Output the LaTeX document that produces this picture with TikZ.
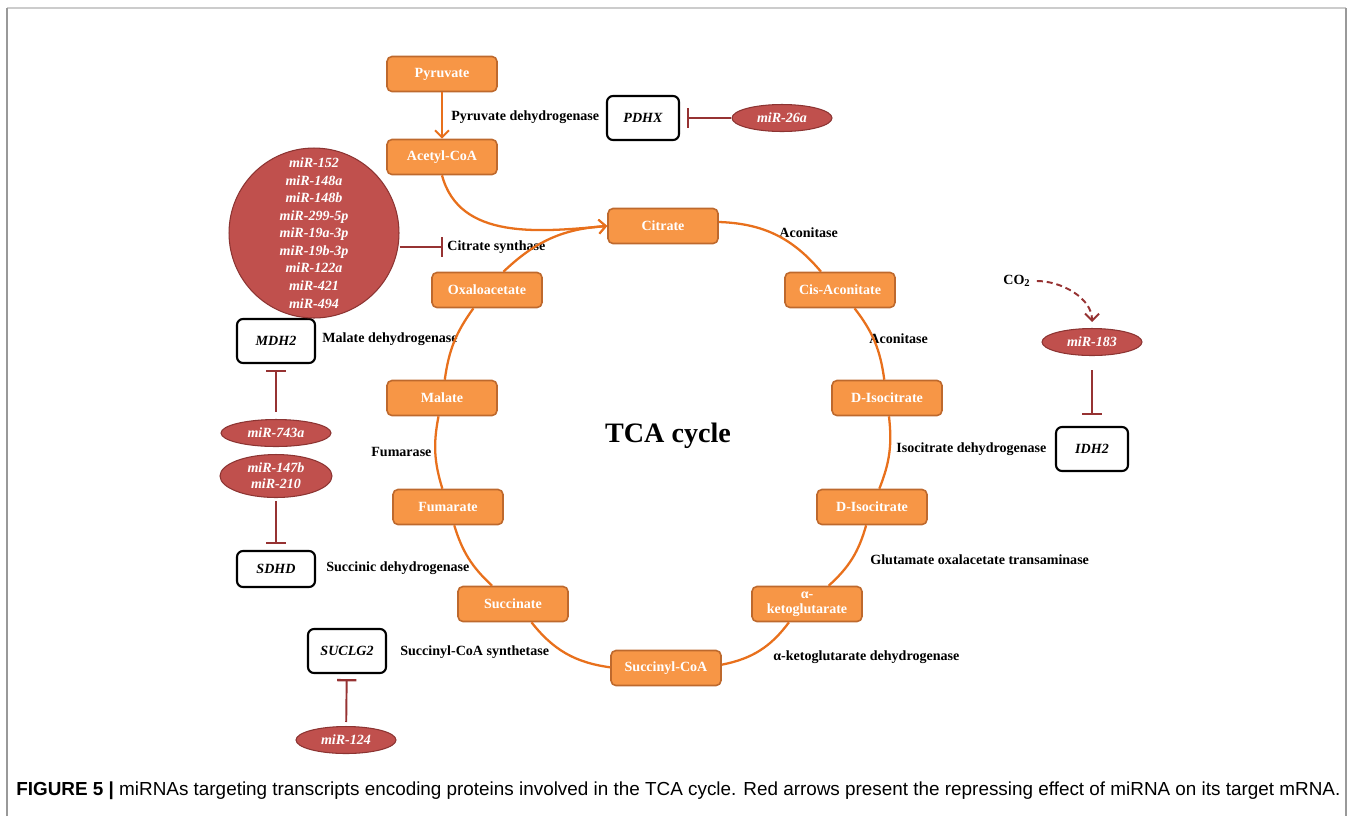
\documentclass[tikz,border=0pt]{standalone}
\usepackage{fontspec}
\setmainfont{Liberation Serif}
\setsansfont{Liberation Sans}
\usepackage{tikz}
\usetikzlibrary{shapes.geometric,arrows.meta}

\definecolor{metabfill}{RGB}{247,150,70}
\definecolor{metabdraw}{RGB}{190,105,45}
\definecolor{cycline}{RGB}{232,112,28}
\definecolor{mirfill}{RGB}{192,80,77}
\definecolor{mirdraw}{RGB}{140,52,50}
\definecolor{inhline}{RGB}{150,50,50}

\tikzset{
  metab/.style={rectangle, rounded corners=2.8pt, draw=metabdraw, fill=metabfill, line width=0.9pt,
    minimum width=2.2cm, minimum height=0.7cm, inner sep=1pt, text=white, align=center,
    font=\bfseries\fontsize{8}{9}\selectfont},
  gene/.style={rectangle, rounded corners=3.4pt, draw=black, line width=1.2pt,
    minimum width=1.56cm, minimum height=0.88cm, font=\bfseries\itshape\fontsize{8}{9}\selectfont},
  mir/.style={ellipse, draw=mirdraw, fill=mirfill, line width=0.6pt, inner sep=0pt,
    minimum width=2cm, minimum height=0.54cm, text=white, align=center,
    font=\bfseries\itshape\fontsize{8}{9}\selectfont},
  enz/.style={anchor=west, inner sep=0pt, font=\bfseries\fontsize{8}{9}\selectfont},
  cyc/.style={cycline, line width=1.3pt},
  cycarrow/.style={cyc, -{Straight Barb[length=4pt,width=8pt,line width=1.1pt]}},
  inhib/.style={inhline, line width=1.1pt, -{Bar[width=11pt,line width=1.3pt]}},
}

\begin{document}
\begin{tikzpicture}[x=0.02cm, y=-0.02cm]
  \useasboundingbox (0,0) rectangle (1354,816);
  % frame
  \draw[black!20, line width=1.2pt] (7,8) -- (1346,8);
  \draw[black!40, line width=0.6pt] (7,816) -- (7,8) (1346,8) -- (1346,816);

  % metabolites
  \node[metab] (pyr)  at (442,74)  {Pyruvate};
  \node[metab] (acet) at (442,157) {Acetyl-CoA};
  \node[metab] (cit)  at (663,226) {Citrate};
  \node[metab] (cis)  at (840,290) {Cis-Aconitate};
  \node[metab] (iso)  at (887,398) {D-Isocitrate};
  \node[metab] (isob) at (872,507) {D-Isocitrate};
  \node[metab, text depth=1.5pt] (akg) at (807,604) {α-\\ketoglutarate};
  \node[metab] (scoa) at (666,668) {Succinyl-CoA};
  \node[metab] (succ) at (513,604) {Succinate};
  \node[metab] (fum)  at (448,507) {Fumarate};
  \node[metab] (mal)  at (442,398) {Malate};
  \node[metab] (oxa)  at (487,290) {Oxaloacetate};
  \node[font=\bfseries\fontsize{16}{18}\selectfont] (tca) at (668,436) {TCA cycle};

  % enzymes
  \node[enz] (pdh)  at (451,117) {Pyruvate dehydrogenase};
  \node[enz] (cs)   at (447,247) {Citrate synthase};
  \node[enz] (acoa) at (779,233) {Aconitase};
  \node[enz] (acob) at (869,339) {Aconitase};
  \node[enz] (idh)  at (896,449) {Isocitrate dehydrogenase};
  \node[enz] (got)  at (870,560) {Glutamate oxalacetate transaminase};
  \node[enz] (ogdh) at (773,657) {α-ketoglutarate dehydrogenase};
  \node[enz] (scs)  at (400,652) {Succinyl-CoA synthetase};
  \node[enz] (sdh)  at (326,568) {Succinic dehydrogenase};
  \node[enz] (fh)   at (371,452) {Fumarase};
  \node[enz] (mdh)  at (322,339) {Malate dehydrogenase};
  \node[enz] (co2)  at (1003,281) {CO\textsubscript{2}};

  % genes
  \node[gene, minimum width=1.44cm] (pdhx) at (643,118) {PDHX};
  \node[gene] (mdh2)   at (276,341) {MDH2};
  \node[gene, minimum height=0.72cm] (sdhd) at (276,569) {SDHD};
  \node[gene] (suclg2) at (347,651) {SUCLG2};
  \node[gene, minimum width=1.44cm] (idh2) at (1092,449) {IDH2};

  % miRNAs
  \node[mir] (m26a) at (782,118) {miR-26a};
  \node[mir, circle, minimum size=3.4cm, font=\bfseries\itshape\fontsize{8}{10}\selectfont] (mcs) at (314,233)
    {miR-152\\miR-148a\\miR-148b\\miR-299-5p\\miR-19a-3p\\miR-19b-3p\\miR-122a\\miR-421\\miR-494};
  \node[mir, minimum width=2.2cm] (m743) at (276,433) {miR-743a};
  \node[mir, minimum width=2.24cm, minimum height=0.86cm] (m147) at (276,476) {miR-147b\\miR-210};
  \node[mir] (m124) at (346,740) {miR-124};
  \node[mir] (m183) at (1092,342) {miR-183};

  % cycle
  \path[cycarrow] (pyr) edge (acet)
    (acet.south) edge[out=-75, in=185] (cit.west)
    (oxa) edge[bend left=20] (cit.west);
  \path[cyc] (cit) edge[bend left=24] (cis)
    (cis) edge[bend left=15] (iso)
    (iso) edge[bend left=14] (isob)
    (isob) edge[bend left=16] (akg)
    (akg) edge[bend left=21] (scoa)
    (scoa) edge[bend left=22] (succ)
    (succ) edge[bend left=15] (fum)
    (fum) edge[bend left=14] (mal)
    (mal) edge[bend left=14] (oxa);

  % repression
  \path[inhib] (m26a) edge[shorten >=0.14cm] (pdhx)
    (mcs.east |- cs.west) edge[shorten >=0.08cm] (cs)
    (m743) edge[shorten <=0.14cm, shorten >=0.12cm] (mdh2)
    (m147) edge[shorten <=0.06cm, shorten >=0.12cm] (sdhd)
    (m124) edge[shorten <=0.08cm, shorten >=0.1cm] (suclg2)
    (m183) edge[shorten <=0.28cm, shorten >=0.22cm] (idh2);
  \path[inhline, line width=1.1pt, dash pattern=on 3.4pt off 2.2pt,
    -{Straight Barb[length=4pt,width=8pt,line width=1.1pt]}]
    (co2) edge[out=0, in=90, shorten <=0.12cm, shorten >=0.12cm] (m183);

  % caption
  \node[anchor=west, inner sep=0pt, font=\sffamily\fontsize{10.75}{12}\selectfont] (cap) at (16,791)
    {\textbf{FIGURE 5 |} miRNAs targeting transcripts encoding proteins involved in the TCA cycle. Red arrows present the repressing effect of miRNA on its target mRNA.};
\end{tikzpicture}
\end{document}
